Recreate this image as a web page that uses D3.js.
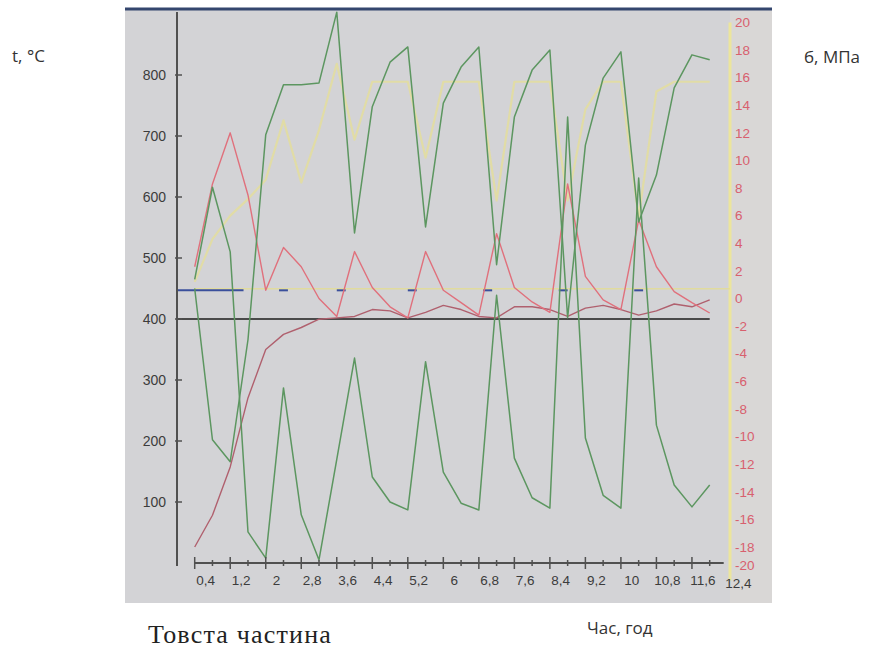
<!DOCTYPE html>
<html><head><meta charset="utf-8">
<script src="https://cdn.jsdelivr.net/npm/d3@7"></script>
<style>body{margin:0;background:#fff}svg{display:block}</style>
</head><body><svg id="c" width="882" height="655"></svg>
<script>
// ---- data ----
const time = [0.2,0.6,1.0,1.4,1.8,2.2,2.6,3.0,3.4,3.8,4.2,4.6,5.0,5.4,5.8,6.2,6.6,7.0,7.4,7.8,8.2,8.6,9.0,9.4,9.8,10.2,10.6,11.0,11.4,11.8];
const xLabelValues = [0.4,1.2,2.0,2.8,3.6,4.4,5.2,6.0,6.8,7.6,8.4,9.2,10.0,10.8,11.6,12.4];
const xLabelText = ["0,4","1,2","2","2,8","3,6","4,4","5,2","6","6,8","7,6","8,4","9,2","10","10,8","11,6","12,4"];
const tempTicks = [100,200,300,400,500,600,700,800];
const stressTicks = [-20,-18,-16,-14,-12,-10,-8,-6,-4,-2,0,2,4,6,8,10,12,14,16,18,20];

// temperatures, °C (left axis)
const tempUpper = [450,202,166,366,702,784,784,787,903,541,748,821,846,551,754,813,846,489,731,808,841,402,685,795,838,559,636,779,833,825];
const tempLower = [465,616,510,51,8,287,79,5,170,336,141,100,87,330,149,98,87,439,172,107,90,731,205,111,90,631,226,128,92,128];
// stresses, MPa (right axis)
const stressA = [2.3,8.3,12.0,7.5,0.6,3.7,2.3,0.0,-1.3,3.4,0.8,-0.6,-1.4,3.4,0.6,-0.3,-1.2,4.7,0.8,-0.25,-1.0,8.3,1.6,-0.1,-0.8,5.7,2.3,0.5,-0.3,-1.05];
const stressB = [-18.0,-15.7,-12.2,-7.2,-3.7,-2.6,-2.1,-1.5,-1.4,-1.3,-0.8,-0.9,-1.4,-1.0,-0.5,-0.8,-1.3,-1.4,-0.6,-0.6,-0.8,-1.3,-0.7,-0.5,-0.8,-1.2,-0.9,-0.4,-0.6,-0.1];
const stressC = [1.2,4.3,6.0,7.2,8.6,12.9,8.4,12.2,17.0,11.5,15.7,15.7,15.7,10.2,15.7,15.7,15.7,7.1,15.7,15.7,15.7,7.1,13.7,15.7,15.7,5.9,15.0,15.7,15.7,15.7];
// reference lines
const refBlack = 400;          // °C
const refBlue = 447;           // °C
const refBlueSolidEnd = 1.3;   // time
const blueMarks = [2.2,3.5,5.1,6.8,8.5,10.2];
const refYellow = 0.7;         // MPa

// ---- layout ----
const svg = d3.select("#c");
const panel = {x0:125, y0:8, x1:772, y1:603};
const leftAxisX = 177, rightAxisX = 730, xAxisY = 563;

const x = d3.scaleLinear().domain([0.2, 11.8]).range([194.7, 709.7]);
const yL = d3.scaleLinear().domain([0, 800]).range([563, 75]);
const yR = d3.scaleLinear().domain([-18, 18]).range([547, 50]);

svg.append("rect").attr("width",882).attr("height",655).attr("fill","#fff");
svg.append("rect").attr("x",panel.x0).attr("y",panel.y0).attr("width",panel.x1-panel.x0).attr("height",panel.y1-panel.y0).attr("fill","#d3d3d6");
svg.append("rect").attr("x",rightAxisX).attr("y",panel.y0).attr("width",panel.x1-rightAxisX).attr("height",panel.y1-panel.y0).attr("fill","#d9d7d6");
// top border
svg.append("line").attr("x1",panel.x0).attr("x2",panel.x1).attr("y1",9).attr("y2",9).attr("stroke","#34466e").attr("stroke-width",3);

// right axis (yellow line)
svg.append("line").attr("x1",rightAxisX).attr("x2",rightAxisX).attr("y1",yR(20)).attr("y2",yR(-20)+6).attr("stroke","#ece59c").attr("stroke-width",3);

// reference lines
svg.append("line").attr("x1",x(0.2)).attr("x2",rightAxisX).attr("y1",yR(refYellow)).attr("y2",yR(refYellow)).attr("stroke","#e4dd95").attr("stroke-width",1.5).attr("opacity",0.85);
svg.append("line").attr("x1",leftAxisX).attr("x2",x(refBlueSolidEnd)).attr("y1",yL(refBlue)).attr("y2",yL(refBlue)).attr("stroke","#3a4f9c").attr("stroke-width",2);
svg.selectAll(".bm").data(blueMarks).join("line").attr("class","bm")
  .attr("x1",d=>x(d-0.1)).attr("x2",d=>x(d+0.1)).attr("y1",yL(refBlue)).attr("y2",yL(refBlue))
  .attr("stroke","#3a4f9c").attr("stroke-width",2);
svg.append("line").attr("x1",leftAxisX).attr("x2",x(time[time.length-1])).attr("y1",yL(refBlack)).attr("y2",yL(refBlack)).attr("stroke","#4a4a4a").attr("stroke-width",2);

// series
function draw(vals, yScale, color, w, op){
  const line = d3.line().x((d,i)=>x(time[i])).y(d=>yScale(d));
  svg.append("path").datum(vals).attr("d",line).attr("fill","none").attr("stroke",color)
    .attr("stroke-width",w).attr("stroke-linejoin","round").attr("opacity",op||1);
}
draw(stressC, yR, "#e6df96", 2.2, 0.75);
draw(stressB, yR, "#b0606e", 1.4);
draw(stressA, yR, "#e0707c", 1.4);
draw(tempLower, yL, "#5c9660", 1.5);
draw(tempUpper, yL, "#5c9660", 1.5);

// left axis
svg.append("line").attr("x1",leftAxisX).attr("x2",leftAxisX).attr("y1",12).attr("y2",566).attr("stroke","#505050").attr("stroke-width",2);
const gl = svg.append("g");
gl.selectAll("line").data(tempTicks).join("line").attr("x1",leftAxisX-2).attr("x2",leftAxisX+5).attr("y1",d=>yL(d)).attr("y2",d=>yL(d)).attr("stroke","#505050").attr("stroke-width",1.5);
gl.selectAll("text").data(tempTicks).join("text").attr("x",166).attr("y",d=>yL(d)).attr("dy","0.35em").attr("text-anchor","end")
  .attr("font-family","Liberation Sans, Arial, sans-serif").attr("font-size",14).attr("fill","#3c3c3c").text(d=>d);

// x axis
svg.append("line").attr("x1",x(0.2)).attr("x2",x(11.8)+14).attr("y1",xAxisY).attr("y2",xAxisY).attr("stroke","#505050").attr("stroke-width",2);
const gx = svg.append("g");
gx.selectAll("line").data(time).join("line")
  .attr("x1",d=>x(d)).attr("x2",d=>x(d))
  .attr("y1",(d,i)=> i%2===0 ? xAxisY-6 : xAxisY-3)
  .attr("y2",(d,i)=> i%2===0 ? xAxisY+6 : xAxisY+3)
  .attr("stroke","#505050").attr("stroke-width",1.5);
gx.selectAll("text").data(xLabelValues).join("text").attr("x",d=>x(d)+2).attr("y",(d,i)=> i===xLabelValues.length-1 ? 588 : 585).attr("text-anchor","middle")
  .attr("font-family","Liberation Sans, Arial, sans-serif").attr("font-size",13.5).attr("fill","#3c3c3c").text((d,i)=>xLabelText[i]);

// right axis labels (the lowest one sits a little higher, clear of the last x label)
const gr = svg.append("g");
gr.selectAll("text").data(stressTicks).join("text").attr("x",735).attr("y",d=>yR(d) - (d===-20 ? 9 : 0)).attr("dy","0.35em")
  .attr("font-family","Liberation Sans, Arial, sans-serif").attr("font-size",13.5).attr("fill","#d8606e").text(d=>d);

// titles
svg.append("text").attr("x",12).attr("y",62).attr("font-family","Open Sans, sans-serif").attr("font-size",17).attr("fill","#333").text("t, °C");
svg.append("text").attr("x",804).attr("y",63).attr("font-family","Open Sans, sans-serif").attr("font-size",17).attr("fill","#333").text("б, МПа");
svg.append("text").attr("x",148).attr("y",643).attr("font-family","Liberation Serif, serif").attr("font-size",26).attr("letter-spacing",1.2).attr("fill","#222").text("Товста частина");
svg.append("text").attr("x",587).attr("y",634).attr("font-family","Open Sans, sans-serif").attr("font-size",17).attr("fill","#333").text("Час, год");
</script></body></html>
